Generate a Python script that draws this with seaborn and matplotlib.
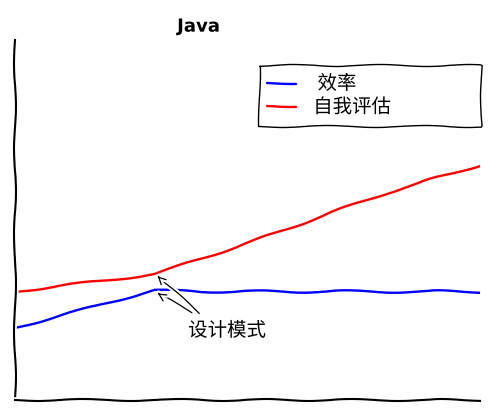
import pandas as pd
import seaborn as sns
import matplotlib.pyplot as plt

# 数据
x = [0, 1, 2, 3, 4, 5, 6, 7, 8, 9, 10]
xiaolv = [2.0, 2.35, 2.7, 3.05, 3.0, 3.02, 3.0, 3.02, 3.0, 3.02, 3.0]
pinggu = [3.0, 3.18, 3.32, 3.5, 3.92, 4.36, 4.82, 5.3, 5.75, 6.15, 6.52]
labels = [" 效率", "自我评估"]

df = pd.DataFrame({
    "x": x + x,
    "y": xiaolv + pinggu,
    "系列": [labels[0]] * len(x) + [labels[1]] * len(x),
})

sns.set_style("white")
plt.xkcd()
plt.rcParams['font.family'] = ['Noto Sans CJK SC', 'DejaVu Sans']
plt.rcParams['text.color'] = 'black'

fig, ax = plt.subplots(figsize=(4.9, 4.08), dpi=100)
fig.subplots_adjust(left=0.031, right=0.98, top=0.902, bottom=0.02)

sns.lineplot(data=df, x="x", y="y", hue="系列",
             palette={labels[0]: "blue", labels[1]: "red"},
             linewidth=1.7, ax=ax)

ax.set_xlim(0, 10)
ax.set_ylim(0, 10)
ax.set_xticks([])
ax.set_yticks([])
ax.set_xlabel("")
ax.set_ylabel("")
ax.spines['top'].set_visible(False)
ax.spines['right'].set_visible(False)

ax.set_title("Java", fontsize=13, fontweight="bold", x=0.394,
             family=['DejaVu Sans'], color="black")

leg = ax.legend(loc="upper left", bbox_to_anchor=(0.525, 0.764, 0.476, 0.166),
                mode="expand", borderaxespad=0, fontsize=14,
                fancybox=False, edgecolor="black", framealpha=1,
                handlelength=1.45, borderpad=0.42, labelspacing=0.12,
                handletextpad=0.9)
leg.get_frame().set_linewidth(1.0)
for t in leg.get_texts():
    t.set_color("black")

# 注释
ax.annotate("", xy=(3.05, 3.45), xytext=(3.96, 2.4),
            arrowprops=dict(arrowstyle="->", color="black", lw=0.9,
                            shrinkA=0, shrinkB=0))
ax.annotate("", xy=(3.05, 2.97), xytext=(3.8, 2.42),
            arrowprops=dict(arrowstyle="->", color="black", lw=0.9,
                            shrinkA=0, shrinkB=0))
ax.text(3.72, 1.92, "设计模式", fontsize=14, ha="left", va="center",
        color="black")

plt.savefig("out.png", dpi=100)
